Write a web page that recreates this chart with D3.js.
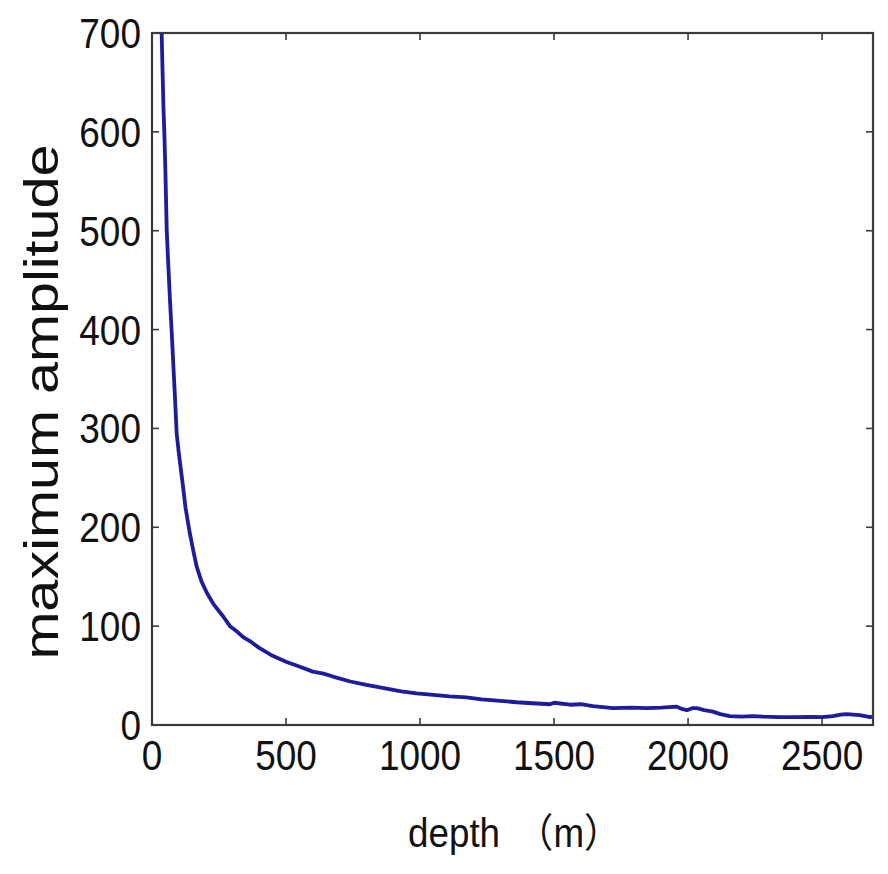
<!DOCTYPE html>
<html>
<head>
<meta charset="utf-8">
<script src="https://cdn.jsdelivr.net/npm/d3@7"></script>
<style>
  html, body { margin: 0; padding: 0; background: #fff; }
  svg { display: block; }
  text { font-family: "Liberation Sans", Arial, "Noto Sans CJK SC", sans-serif; fill: #111; }
</style>
</head>
<body>
<svg id="chart" width="888" height="874"></svg>
<script>
// Maximum amplitude of the record versus depth
const depth = [36, 40, 43, 46, 50, 55, 60, 67, 73, 80, 86, 92, 100, 114, 125, 141, 155, 167, 185, 204,
  230, 265, 291, 315, 340, 370, 400, 450, 500, 552, 600, 640, 675, 740, 800, 870, 930, 987, 1050, 1110, 1173, 1230, 1300,
  1360, 1420, 1485, 1500, 1560, 1600, 1645, 1720, 1790, 1846, 1900, 1958, 1980, 1996, 2015, 2033, 2060, 2093, 2120, 2156, 2200,
  2240, 2280, 2340, 2404, 2460, 2500, 2540, 2570, 2590, 2615, 2640, 2660, 2680, 2690];
const amplitude = [700, 655, 622, 600, 560, 500, 470, 430, 400, 362, 330, 295, 275, 245, 220, 194, 175, 160, 145, 134,
  122, 110, 100, 95, 89, 84, 78, 70, 64, 59, 54, 52, 49, 44, 40.5, 37, 34, 32, 30.5, 29, 28, 26, 24.5,
  23, 22, 21, 22.5, 20.5, 21, 19, 17, 17.5, 17, 17.5, 18.5, 16, 15, 17, 17, 15, 13.5, 11, 9, 8.5,
  9, 8.4, 8, 8, 8.3, 8, 9, 10.5, 11, 10.5, 10, 9, 8, 8.5];

const xTicks = [0, 500, 1000, 1500, 2000, 2500];
const yTicks = [0, 100, 200, 300, 400, 500, 600, 700];
const xLabelWord = "depth";
const xLabelUnit = "\uFF08m\uFF09";
const yLabel = "maximum amplitude";

const svg = d3.select("#chart");
const plotL = 152, plotR = 873, plotT = 33, plotB = 725;

const x = d3.scaleLinear().domain([0, 2690]).range([plotL, plotR]);
const y = d3.scaleLinear().domain([0, 700]).range([plotB, plotT]);

const axisColor = "#3a3a3a";
const tickLen = 7;

// clip the curve to the plotting box
svg.append("defs").append("clipPath").attr("id", "plot-clip")
  .append("rect").attr("x", plotL).attr("y", plotT).attr("width", plotR - plotL).attr("height", plotB - plotT);

// data line
const line = d3.line().x((d, i) => x(depth[i])).y(d => y(d));
svg.append("path")
  .datum(amplitude)
  .attr("clip-path", "url(#plot-clip)")
  .attr("fill", "none")
  .attr("stroke", "#1c1c9c")
  .attr("stroke-width", 3.8)
  .attr("stroke-linejoin", "round")
  .attr("d", line);

// inward ticks on all four sides
const tg = svg.append("g").attr("stroke", axisColor).attr("stroke-width", 1.6);
xTicks.forEach(t => {
  tg.append("line").attr("x1", x(t)).attr("x2", x(t)).attr("y1", plotB).attr("y2", plotB - tickLen);
  tg.append("line").attr("x1", x(t)).attr("x2", x(t)).attr("y1", plotT).attr("y2", plotT + tickLen);
});
yTicks.forEach(t => {
  tg.append("line").attr("x1", plotL).attr("x2", plotL + tickLen).attr("y1", y(t)).attr("y2", y(t));
  tg.append("line").attr("x1", plotR).attr("x2", plotR - tickLen).attr("y1", y(t)).attr("y2", y(t));
});

// box
svg.append("rect")
  .attr("x", plotL).attr("y", plotT).attr("width", plotR - plotL).attr("height", plotB - plotT)
  .attr("fill", "none").attr("stroke", axisColor).attr("stroke-width", 2.2);

// tick labels (narrow, tall lettering)
const sx = 0.86;
const xl = svg.append("g");
xTicks.forEach(t => {
  xl.append("text")
    .attr("transform", `translate(${x(t)},770) scale(${sx},1)`)
    .attr("text-anchor", "middle")
    .attr("font-size", 43)
    .text(t);
});
const yl = svg.append("g");
yTicks.forEach(t => {
  yl.append("text")
    .attr("transform", `translate(141,${y(t) + 15}) scale(${sx},1)`)
    .attr("text-anchor", "end")
    .attr("font-size", 43)
    .text(t);
});

// axis titles
const xt = svg.append("text")
  .attr("transform", `translate(408,847) scale(0.92,1)`)
  .attr("font-size", 40);
xt.append("tspan").text(xLabelWord);
xt.append("tspan").attr("dx", 18).text(xLabelUnit);

svg.append("text")
  .attr("transform", `translate(58,${(plotT + plotB) / 2 + 23}) rotate(-90) scale(1.2,1)`)
  .attr("text-anchor", "middle")
  .attr("font-size", 48)
  .text(yLabel);
</script>
</body>
</html>
